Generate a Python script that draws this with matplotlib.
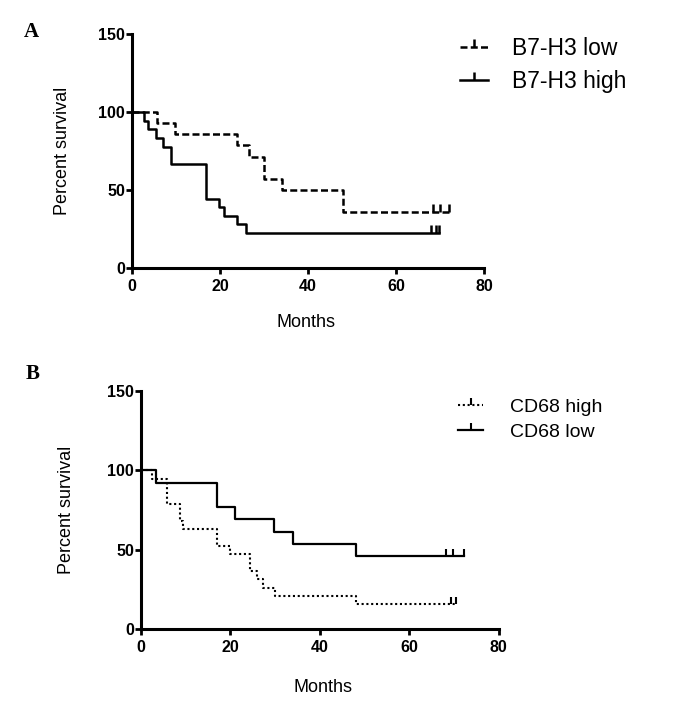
import matplotlib
matplotlib.use('Agg')
import matplotlib.pyplot as plt
from matplotlib.lines import Line2D
from matplotlib.font_manager import FontProperties

# ---------------- data ----------------
month_ticks = [0, 20, 40, 60, 80]
pct_ticks = [0, 50, 100, 150]

# Panel A
b7_low_t = [0, 5.7, 9.8, 23.9, 26.7, 30.1, 34.1, 48.0, 72.0]
b7_low_s = [100, 92.9, 85.7, 78.6, 71.4, 57.1, 50.0, 35.7, 35.7]
b7_low_cens_t = [68.5, 70.0, 72.0]
b7_low_cens_s = [35.7, 35.7, 35.7]

b7_high_t = [0, 2.8, 3.6, 5.5, 7.0, 8.9, 16.9, 19.7, 20.8, 23.9, 25.8, 69.8]
b7_high_s = [100, 94.4, 88.9, 83.3, 77.8, 66.7, 44.4, 38.9, 33.3, 27.8, 22.2, 22.2]
b7_high_cens_t = [68.0, 69.0, 69.8]
b7_high_cens_s = [22.2, 22.2, 22.2]

# Panel B
cd68_high_t = [0, 2.5, 5.8, 8.8, 9.5, 17.0, 19.8, 24.3, 26.0, 27.4, 30.0, 48.0, 70.4]
cd68_high_s = [100, 94.7, 78.9, 68.4, 63.2, 52.6, 47.4, 36.8, 31.6, 26.3, 21.1, 15.8, 15.8]
cd68_high_cens_t = [69.4, 70.4]
cd68_high_cens_s = [15.8, 15.8]

cd68_low_t = [0, 3.4, 16.9, 21.0, 29.8, 33.9, 48.2, 72.3]
cd68_low_s = [100, 92.3, 76.9, 69.2, 61.5, 53.8, 46.2, 46.2]
cd68_low_cens_t = [68.3, 69.9, 72.3]
cd68_low_cens_s = [46.2, 46.2, 46.2]

labels_A = ["B7-H3 low", "B7-H3 high"]
labels_B = ["CD68 high", "CD68 low"]

# ---------------- figure ----------------
W, H = 688, 702
fig = plt.figure(figsize=(W / 100, H / 100), dpi=100)
fig.patch.set_facecolor('white')

tick_font = dict(family='Liberation Sans', weight='bold', size=11.5)
label_font = dict(family='Liberation Sans', size=13)

CENS = 2  # TICKUP marker


def style_axes(ax, ylab_x, xlab_xy):
    ax.set_xlim(0, 80)
    ax.set_ylim(0, 150)
    ax.set_xticks(month_ticks)
    ax.set_yticks(pct_ticks)
    for s in ['top', 'right']:
        ax.spines[s].set_visible(False)
    for s in ['left', 'bottom']:
        ax.spines[s].set_linewidth(2.2)
        ax.spines[s].set_capstyle('projecting')
    ax.tick_params(direction='out', length=4, width=2.0, pad=1)
    ax.tick_params(axis='x', pad=4)
    for lab in ax.get_xticklabels() + ax.get_yticklabels():
        lab.set_fontproperties(FontProperties(**tick_font))
    ax.set_ylabel('Percent survival', **label_font)
    ax.set_xlabel('Months', **label_font)
    ax.yaxis.set_label_coords(ylab_x, 0.5)
    ax.xaxis.set_label_coords(*xlab_xy)
    ax.patch.set_alpha(0)


# Panel A
axA = fig.add_axes([132 / W, 1 - 267.7 / H, 352 / W, 233.4 / H])
dashA = (0, (2.8, 1.3))
axA.plot(b7_low_t, b7_low_s, drawstyle='steps-post', color='k', lw=1.8, ls=dashA)
axA.plot(b7_low_cens_t, b7_low_cens_s, ls='none', marker=CENS, ms=6, mew=1.8, color='k')
axA.plot(b7_high_t, b7_high_s, drawstyle='steps-post', color='k', lw=1.8)
axA.plot(b7_high_cens_t, b7_high_cens_s, ls='none', marker=CENS, ms=6, mew=1.8, color='k')
style_axes(axA, (71 - 132) / 352, ((306 - 132) / 352, (267.7 - 314) / 233.4))

hA = [Line2D([], [], color='k', lw=1.8, ls=dashA, marker=CENS, ms=6, mew=1.8),
      Line2D([], [], color='k', lw=1.8, marker=CENS, ms=6, mew=1.8)]
axA.legend(hA, labels_A, loc='upper left', bbox_to_anchor=(460 / W, 1 - 37 / H),
           bbox_transform=fig.transFigure, frameon=False, numpoints=1,
           prop=dict(family='Liberation Sans', size=16.5), borderpad=0, borderaxespad=0,
           handlelength=1.2, handletextpad=1.05, labelspacing=0.45)

# Panel B
axB = fig.add_axes([141 / W, 1 - 629.3 / H, 357.6 / W, 238.3 / H])
dotB = (0, (1.0, 1.3))
axB.plot(cd68_high_t, cd68_high_s, drawstyle='steps-post', color='k', lw=1.5, ls=dotB)
axB.plot(cd68_high_cens_t, cd68_high_cens_s, ls='none', marker=CENS, ms=5, mew=1.5, color='k')
axB.plot(cd68_low_t, cd68_low_s, drawstyle='steps-post', color='k', lw=1.6)
axB.plot(cd68_low_cens_t, cd68_low_cens_s, ls='none', marker=CENS, ms=5, mew=1.5, color='k')
style_axes(axB, (75 - 141) / 357.6, ((323 - 141) / 357.6, (629.3 - 679) / 238.3))

hB = [Line2D([], [], color='k', lw=1.5, ls=dotB, marker=CENS, ms=5, mew=1.5),
      Line2D([], [], color='k', lw=1.6, marker=CENS, ms=5, mew=1.5)]
axB.legend(hB, labels_B, loc='upper left', bbox_to_anchor=(458 / W, 1 - 398 / H),
           bbox_transform=fig.transFigure, frameon=False, numpoints=1,
           prop=dict(family='Liberation Sans', size=14), borderpad=0, borderaxespad=0,
           handlelength=1.3, handletextpad=1.35, labelspacing=0.4)

# Panel letters
fig.text(31 / W, 1 - 32 / H, 'A', ha='center', va='center',
         family='Liberation Serif', weight='bold', size=15)
fig.text(33 / W, 1 - 374 / H, 'B', ha='center', va='center',
         family='Liberation Serif', weight='bold', size=15)

fig.savefig('out.png', dpi=100, facecolor='white')
